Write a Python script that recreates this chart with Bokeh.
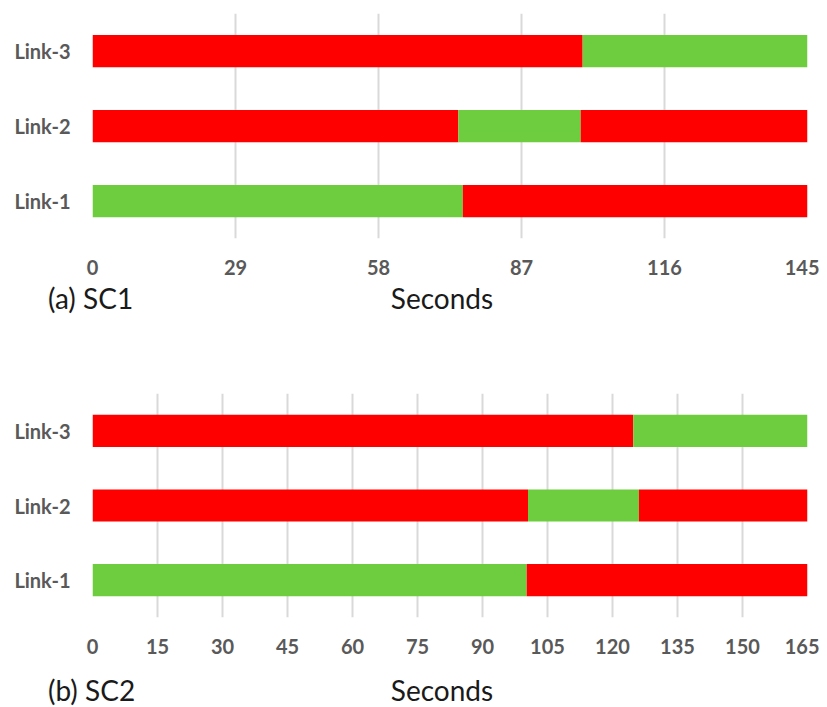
from bokeh.plotting import figure
from bokeh.models import FactorRange, Range1d, FixedTicker, ColumnDataSource, Div
from bokeh.layouts import column
from bokeh.embed import file_html
from bokeh.resources import INLINE

links = ["Link-1", "Link-2", "Link-3"]

# SC1 segments
sc1_link = ["Link-1", "Link-1", "Link-2", "Link-2", "Link-2", "Link-3", "Link-3"]
sc1_start = [0, 75.1, 0, 74.2, 99.0, 0, 99.4]
sc1_end = [75.1, 145, 74.2, 99.0, 145, 99.4, 145]
sc1_state = ["green", "red", "red", "green", "red", "red", "green"]
sc1_ticks = [0, 29, 58, 87, 116, 145]

# SC2 segments
sc2_link = ["Link-1", "Link-1", "Link-2", "Link-2", "Link-2", "Link-3", "Link-3"]
sc2_start = [0, 100.2, 0, 100.5, 126.1, 0, 124.8]
sc2_end = [100.2, 165, 100.5, 126.1, 165, 124.8, 165]
sc2_state = ["green", "red", "red", "green", "red", "red", "green"]
sc2_ticks = [0, 15, 30, 45, 60, 75, 90, 105, 120, 135, 150, 165]

COLORS = {"green": "#6DCD3F", "red": "#FF0000"}
FONT = "Lato"


def make(links_col, starts, ends, states, ticks, xmax, height, top, bottom):
    p = figure(width=819, height=height, y_range=FactorRange(*links),
               x_range=Range1d(0, xmax), output_backend="svg", toolbar_location=None,
               min_border_left=92, min_border_right=12, min_border_top=top,
               min_border_bottom=bottom)
    src = ColumnDataSource(dict(y=links_col, left=starts, right=ends,
                                color=[COLORS[s] for s in states]))
    p.hbar(y="y", left="left", right="right", height=0.43, fill_color="color",
           line_color=None, source=src)
    p.outline_line_color = None
    p.background_fill_color = "white"
    p.ygrid.grid_line_color = None
    p.xgrid.grid_line_color = "#D9D9D9"
    p.xgrid.grid_line_width = 2
    p.xaxis.ticker = FixedTicker(ticks=ticks)
    for ax in (p.xaxis, p.yaxis):
        ax.axis_line_color = None
        ax.major_tick_line_color = None
        ax.minor_tick_line_color = None
        ax.major_label_text_font = FONT
        ax.major_label_text_font_style = "bold"
        ax.major_label_text_color = "#595959"
    p.xaxis.major_label_text_font_size = "20px"
    p.xaxis.major_label_standoff = 15
    p.yaxis.major_label_text_font_size = "20px"
    p.yaxis.major_label_standoff = 16
    return p


def caption(tag, top, height):
    html = (
        f'<div style="position:relative;width:819px;height:{height}px;'
        f'font-family:Lato;font-size:28px;color:#1a1a1a;line-height:34px;">'
        f'<span style="position:absolute;left:48px;top:{top}px;">{tag}</span>'
        f'<span style="position:absolute;left:442px;top:{top}px;'
        f'transform:translateX(-50%);">Seconds</span></div>'
    )
    return Div(text=html, width=819, height=height, margin=0)


p1 = make(sc1_link, sc1_start, sc1_end, sc1_state, sc1_ticks, 145, 280, 13, 42)
d1 = caption("(a) SC1", 1, 40)
p2 = make(sc2_link, sc2_start, sc2_end, sc2_state, sc2_ticks, 165, 340, 73, 43)
d2 = caption("(b) SC2", 13, 45)

layout = column(p1, d1, p2, d2, spacing=0)
open("out.html", "w").write(file_html(layout, INLINE))
